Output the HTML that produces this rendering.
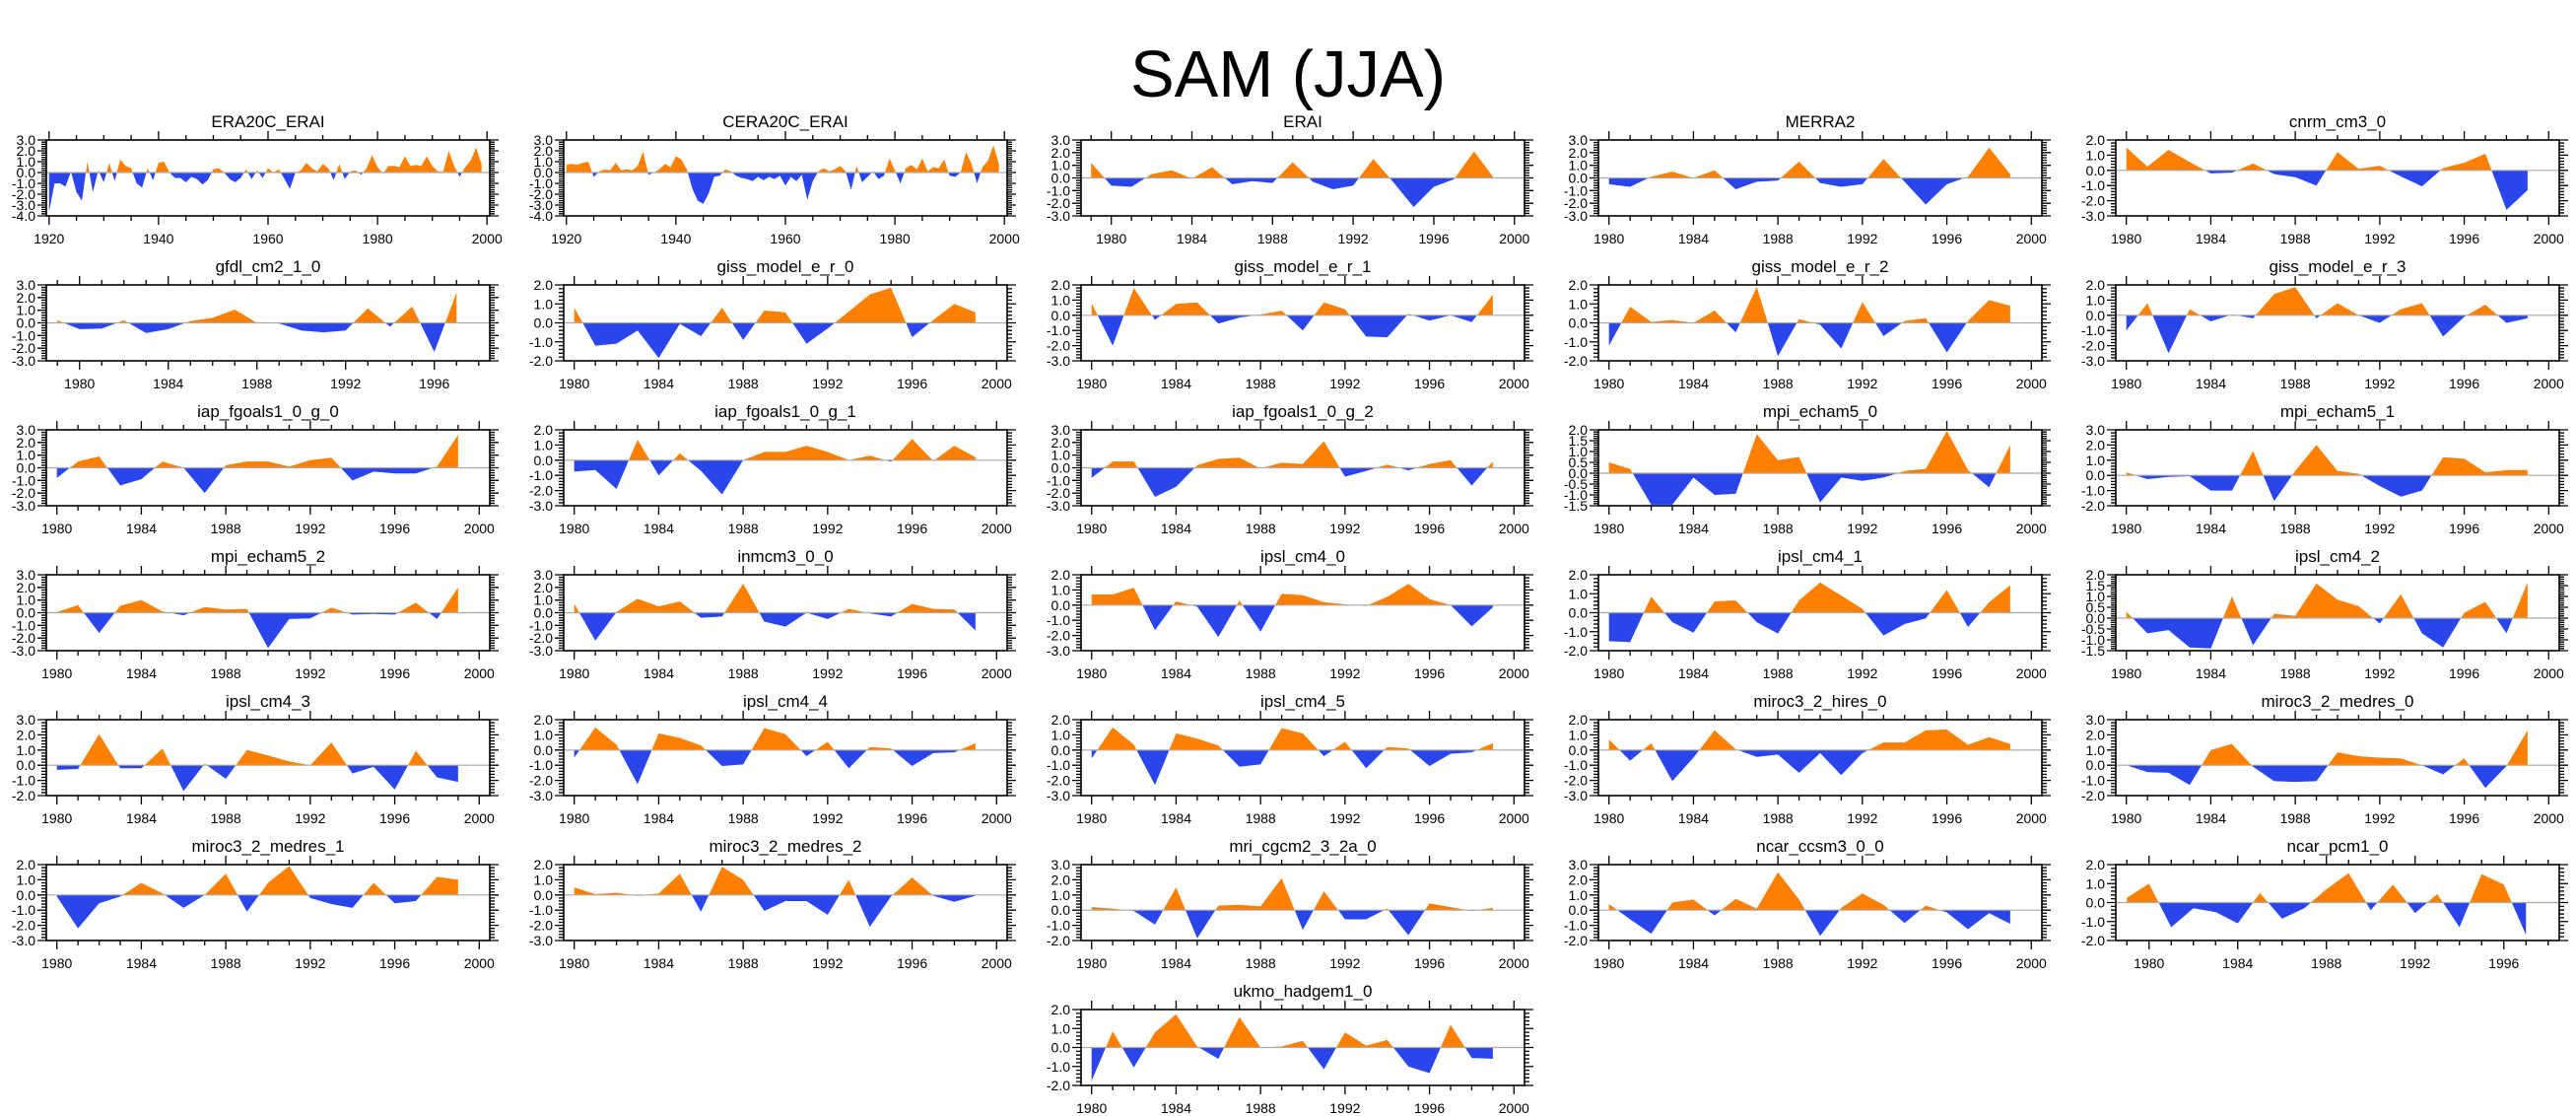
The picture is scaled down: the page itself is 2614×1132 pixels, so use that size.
<!DOCTYPE html>
<html><head><meta charset="utf-8">
<style>
html,body{margin:0;padding:0;background:#fff;}
svg{display:block;font-family:"Liberation Sans",sans-serif;}
</style></head>
<body>
<svg id="chart" width="2614" height="1132" viewBox="0 0 2614 1132" xmlns="http://www.w3.org/2000/svg">
<rect x="0" y="0" width="2614" height="1132" fill="#fff"/>
<text x="1307" y="98" text-anchor="middle" font-size="67">SAM (JJA)</text>
<g id="panels"></g>
</svg>
<script>
const panelNames = ["ERA20C_ERAI","CERA20C_ERAI","ERAI","MERRA2","cnrm_cm3_0",
"gfdl_cm2_1_0","giss_model_e_r_0","giss_model_e_r_1","giss_model_e_r_2","giss_model_e_r_3",
"iap_fgoals1_0_g_0","iap_fgoals1_0_g_1","iap_fgoals1_0_g_2","mpi_echam5_0","mpi_echam5_1",
"mpi_echam5_2","inmcm3_0_0","ipsl_cm4_0","ipsl_cm4_1","ipsl_cm4_2",
"ipsl_cm4_3","ipsl_cm4_4","ipsl_cm4_5","miroc3_2_hires_0","miroc3_2_medres_0",
"miroc3_2_medres_1","miroc3_2_medres_2","mri_cgcm2_3_2a_0","ncar_ccsm3_0_0","ncar_pcm1_0",
"ukmo_hadgem1_0"];
const panelRows = [0,0,0,0,0, 1,1,1,1,1, 2,2,2,2,2, 3,3,3,3,3, 4,4,4,4,4, 5,5,5,5,5, 6];
const panelCols = [0,1,2,3,4, 0,1,2,3,4, 0,1,2,3,4, 0,1,2,3,4, 0,1,2,3,4, 0,1,2,3,4, 2];
const startYears = [1920,1920,1979,1980,1980, 1979,1980,1980,1980,1980, 1980,1980,1980,1980,1980,
1980,1980,1980,1980,1980, 1980,1980,1980,1980,1980, 1980,1980,1980,1980,1979, 1980];
const yMins = [-4,-4,-3,-3,-3, -3,-2,-3,-2,-3, -3,-3,-3,-1.5,-2, -3,-3,-3,-2,-1.5, -2,-3,-3,-3,-2, -3,-3,-2,-2,-2, -2];
const yMaxs = [3,3,3,3,2, 3,2,2,2,2, 3,2,3,2,3, 3,3,2,2,2, 3,2,2,2,3, 2,2,3,3,2, 2];
const yStepsMajor = [1,1,1,1,1, 1,1,1,1,1, 1,1,1,0.5,1, 1,1,1,1,0.5, 1,1,1,1,1, 1,1,1,1,1, 1];

const s0 = [-3.6,-1.0,-1.0,-1.3,0.1,-1.8,-2.6,1.0,-1.8,0.2,-0.9,0.9,-0.8,1.2,0.6,0.4,-1.0,-1.4,0.4,-0.7,0.9,1.0,0.0,-0.5,-0.5,-0.9,-0.4,-0.6,-1.1,-0.7,0.3,0.4,0.0,-0.6,-0.9,-0.5,0.3,-0.6,0.2,-0.5,0.4,0.0,0.3,-0.6,-1.5,0.0,0.2,0.9,0.4,0.1,0.8,0.4,-0.7,0.8,-0.6,0.1,0.2,-0.2,0.4,1.6,0.5,-0.1,0.6,0.6,0.5,1.5,0.6,0.7,0.6,1.5,0.6,0.1,0.1,2.0,0.6,-0.4,0.5,1.1,2.3,0.8];
const s1 = [0.7,0.8,0.7,0.9,1.0,-0.4,0.1,0.3,0.2,0.9,0.2,0.3,0.2,0.6,1.9,-0.2,0.0,0.3,0.8,0.5,1.5,1.2,0.3,-1.5,-2.6,-2.9,-1.9,-0.4,-0.3,0.3,0.1,-0.3,-0.5,-0.6,-0.8,-0.4,-0.7,-0.4,-0.6,-0.3,-1.2,-0.4,-0.8,-0.2,-2.5,-0.8,0.1,0.4,0.1,0.3,0.6,0.1,-1.6,0.6,-0.9,-0.4,0.1,-0.6,-0.3,1.3,0.2,-1.0,0.4,0.7,0.3,1.3,0.1,0.5,0.4,1.2,-0.3,-0.4,0.0,1.9,0.8,-1.0,0.5,1.1,2.5,0.8];
const s2 = [1.2,-0.6,-0.7,0.3,0.6,-0.05,0.85,-0.5,-0.25,-0.4,1.25,-0.3,-0.9,-0.6,1.5,-0.35,-2.3,-0.7,-0.1,2.1,-0.05];
const s3 = [-0.5,-0.7,0.1,0.5,0.0,0.6,-0.9,-0.3,-0.2,1.3,-0.4,-0.7,-0.5,1.5,-0.3,-2.1,-0.5,0.1,2.4,0.3];
const s4 = [1.5,0.25,1.35,0.55,-0.2,-0.15,0.45,-0.25,-0.45,-1.0,1.2,0.1,0.3,-0.4,-1.05,0.15,0.5,1.1,-2.6,-1.3];
const s5 = [0.2,-0.5,-0.45,0.2,-0.8,-0.5,0.15,0.4,1.05,0.0,-0.05,-0.6,-0.75,-0.6,1.15,-0.3,1.3,-2.3,2.4];
const s6 = [0.8,-1.2,-1.1,-0.4,-1.85,-0.05,-0.7,0.8,-0.9,0.65,0.55,-1.1,-0.3,0.6,1.5,1.85,-0.75,0.15,1.0,0.55];
const s7 = [0.8,-2.0,1.8,-0.3,0.75,0.85,-0.55,-0.15,0.05,0.3,-1.0,0.85,0.4,-1.4,-1.45,0.1,-0.35,0.0,-0.45,1.35];
const s8 = [-1.2,0.85,0.05,0.15,0.0,0.65,-0.5,1.9,-1.75,0.2,-0.1,-1.35,1.1,-0.7,0.1,0.25,-1.55,0.1,1.2,0.9];
const s9 = [-1.0,0.8,-2.5,0.4,-0.4,0.05,-0.2,1.4,1.85,-0.2,0.8,0.0,-0.5,0.4,0.8,-1.4,-0.1,0.7,-0.5,-0.2];
const s10 = [-0.8,0.5,0.9,-1.4,-0.9,0.5,0.0,-2.0,0.2,0.5,0.5,0.1,0.6,0.8,-1.0,-0.3,-0.45,-0.45,0.1,2.6];
const s11 = [-0.75,-0.65,-1.9,1.35,-1.0,0.45,-0.7,-2.25,0.0,0.55,0.55,0.95,0.55,0.0,0.3,-0.1,1.4,-0.05,0.95,0.2];
const s12 = [-0.8,0.5,0.5,-2.3,-1.5,0.2,0.7,0.8,-0.05,0.4,0.3,2.1,-0.7,-0.25,0.25,-0.2,0.3,0.6,-1.4,0.5];
const s13 = [0.5,0.2,-1.45,-1.45,-0.2,-1.0,-0.95,1.8,0.6,0.75,-1.35,-0.2,-0.35,-0.2,0.1,0.2,1.95,0.15,-0.65,1.3];
const s14 = [0.2,-0.25,-0.1,-0.05,-1.0,-1.0,1.6,-1.7,0.3,2.0,0.3,0.1,-0.7,-1.4,-1.0,1.2,1.1,0.2,0.35,0.35];
const s15 = [0.05,0.6,-1.6,0.55,1.0,0.1,-0.2,0.45,0.25,0.3,-2.8,-0.5,-0.45,0.4,-0.15,-0.1,-0.15,0.8,-0.5,2.0];
const s16 = [0.7,-2.2,0.05,1.1,0.5,0.9,-0.4,-0.3,2.3,-0.7,-1.1,0.0,-0.5,0.3,-0.05,-0.3,0.7,0.3,0.25,-1.4];
const s17 = [0.7,0.7,1.15,-1.65,0.25,-0.1,-2.1,0.3,-1.75,0.75,0.65,0.2,0.05,-0.05,0.55,1.4,0.4,0.0,-1.4,-0.15];
const s18 = [-1.5,-1.55,0.85,-0.5,-1.05,0.6,0.65,-0.5,-1.1,0.65,1.6,0.9,0.2,-1.2,-0.6,-0.3,1.2,-0.75,0.55,1.45];
const s19 = [0.3,-0.7,-0.55,-1.35,-1.4,1.0,-1.25,0.2,0.1,1.6,0.85,0.55,-0.25,1.1,-0.7,-1.35,0.25,0.75,-0.7,1.65];
const s20 = [-0.3,-0.25,2.05,-0.2,-0.2,1.1,-1.7,0.1,-0.9,1.0,0.65,0.25,0.0,1.5,-0.55,-0.1,-1.6,0.95,-0.8,-1.1];
const s21 = [-0.5,1.5,0.35,-2.25,1.1,0.8,0.3,-1.05,-0.95,1.45,1.05,-0.4,0.55,-1.2,0.2,0.1,-1.05,-0.2,-0.15,0.45];
const s22 = [-0.55,1.5,0.35,-2.3,1.1,0.75,0.3,-1.1,-0.95,1.45,1.1,-0.4,0.55,-1.2,0.2,0.1,-1.05,-0.25,-0.15,0.45];
const s23 = [0.7,-0.7,0.45,-2.05,-0.5,1.3,0.05,-0.45,-0.3,-1.5,-0.2,-1.65,-0.2,0.5,0.5,1.3,1.35,0.35,0.85,0.4];
const s24 = [0.0,-0.45,-0.5,-1.3,1.0,1.4,-0.1,-1.05,-1.1,-1.05,0.85,0.6,0.5,0.45,0.0,-0.6,0.45,-1.5,-0.05,2.3];
const s25 = [-0.1,-2.2,-0.55,-0.1,0.8,0.1,-0.85,0.0,1.4,-1.1,0.8,1.9,-0.2,-0.6,-0.85,0.8,-0.55,-0.4,1.2,1.0];
const s26 = [0.5,0.05,0.15,-0.05,0.1,1.4,-1.1,1.85,1.0,-1.05,-0.4,-0.4,-1.3,1.0,-2.1,-0.1,1.15,-0.05,-0.45,-0.05];
const s27 = [0.2,0.1,-0.05,-0.95,1.5,-1.85,0.3,0.35,0.25,2.1,-1.3,1.25,-0.6,-0.6,0.1,-1.65,0.45,0.2,-0.05,0.15];
const s28 = [0.4,-0.6,-1.55,0.5,0.7,-0.35,0.75,0.1,2.5,0.7,-1.7,0.15,1.1,0.35,-0.85,0.3,-0.15,-1.25,-0.2,-0.9];
const s29 = [0.25,1.0,-1.3,-0.3,-0.5,-1.1,0.5,-0.85,-0.3,0.7,1.55,-0.4,0.95,-0.55,0.45,-1.3,1.5,0.95,-1.7];
const s30 = [-1.75,0.85,-1.05,0.8,1.75,0.05,-0.6,1.6,0.0,0.05,0.35,-1.15,0.8,0.1,0.4,-1.0,-1.35,1.2,-0.55,-0.6];
const seriesList = [s0,s1,s2,s3,s4,s5,s6,s7,s8,s9,s10,s11,s12,s13,s14,s15,s16,s17,s18,s19,s20,s21,s22,s23,s24,s25,s26,s27,s28,s29,s30];

const NS = "http://www.w3.org/2000/svg";
const root = document.getElementById('panels');
const ORANGE = "#ff8000", BLUE = "#2a45ea";
function mk(tag, attrs, parent){ const e=document.createElementNS(NS,tag); for(const k in attrs) e.setAttribute(k,attrs[k]); parent.appendChild(e); return e; }
function fmt(v){ return v.toFixed(1); }

seriesList.forEach((vals, i) => {
  const L = 47 + 525*panelCols[i], T = 142 + 147*panelRows[i], W = 450, H = 77;
  const y0 = startYears[i], xMin = y0 - 0.5, xMax = y0 + vals.length - 1 + 1.5;
  const ymin = yMins[i], ymax = yMaxs[i];
  const sx = yr => L + (yr - xMin) / (xMax - xMin) * W;
  const sy = v => T + (ymax - v) / (ymax - ymin) * H;
  const g = mk('g', {}, root);
  
  

  const title = mk('text', {x: L + W/2, y: T - 13, 'text-anchor':'middle', 'font-size':'17'}, g);
  
  
  title.textContent = panelNames[i];

  const cid = 'c' + i;
  const defs = mk('defs', {}, g);
  const cpA = mk('clipPath', {id: cid + 'a'}, defs);
  mk('rect', {x: L, y: T, width: W, height: sy(0) - T}, cpA);
  const cpB = mk('clipPath', {id: cid + 'b'}, defs);
  mk('rect', {x: L, y: sy(0), width: W, height: T + H - sy(0)}, cpB);

  let pts = sx(y0).toFixed(2) + ',' + sy(0).toFixed(2) + ' ';
  vals.forEach((v, k) => { pts += sx(y0 + k).toFixed(2) + ',' + sy(v).toFixed(2) + ' '; });
  pts += sx(y0 + vals.length - 1).toFixed(2) + ',' + sy(0).toFixed(2);
  const pa = mk('polygon', {points: pts, fill: ORANGE, 'clip-path': 'url(#' + cid + 'a)'}, g);
  
  
  const pb = mk('polygon', {points: pts, fill: BLUE, 'clip-path': 'url(#' + cid + 'b)'}, g);
  
  

  const zl = mk('line', {x1: L, x2: L + W, y1: sy(0), y2: sy(0), stroke: '#aaa', 'stroke-width': 1.2}, g);
  
  

  const box = mk('rect', {x: L, y: T, width: W, height: H, fill: 'none', stroke: '#000', 'stroke-width': 1.6}, g);
  
  

  const long = vals.length > 40;
  const majX = long ? 20 : 4, minX = long ? 5 : 1;
  let tickPath = '';
  for (let yr = Math.ceil(xMin); yr <= xMax; yr++) {
    if (yr % minX !== 0) continue;
    const x = sx(yr), len = (yr % majX === 0) ? 9 : 5;
    tickPath += `M${x},${T}v${-len}M${x},${T+H}v${len}`;
    if (yr % majX === 0) {
      const t = mk('text', {x: x, y: T + H + 28, 'text-anchor': 'middle', 'font-size': '14'}, g);
      
      
      t.textContent = yr;
    }
  }
  const st = yStepsMajor[i], mst = st / 5;
  const nMin = Math.round((ymax - ymin) / mst);
  for (let k = 0; k <= nMin; k++) {
    const v = ymin + k * mst, y = sy(v);
    const major = k % 5 === 0, len = major ? 9 : 5;
    tickPath += `M${L},${y}h${-len}M${L+W},${y}h${len}`;
    if (major) {
      const t = mk('text', {x: L - 11, y: y + 5, 'text-anchor': 'end', 'font-size': '14'}, g);
      
      
      t.textContent = fmt(v);
    }
  }
  const tp = mk('path', {d: tickPath, stroke: '#000', 'stroke-width': 1.3, fill: 'none'}, g);
  
  
});
</script>
</body></html>
